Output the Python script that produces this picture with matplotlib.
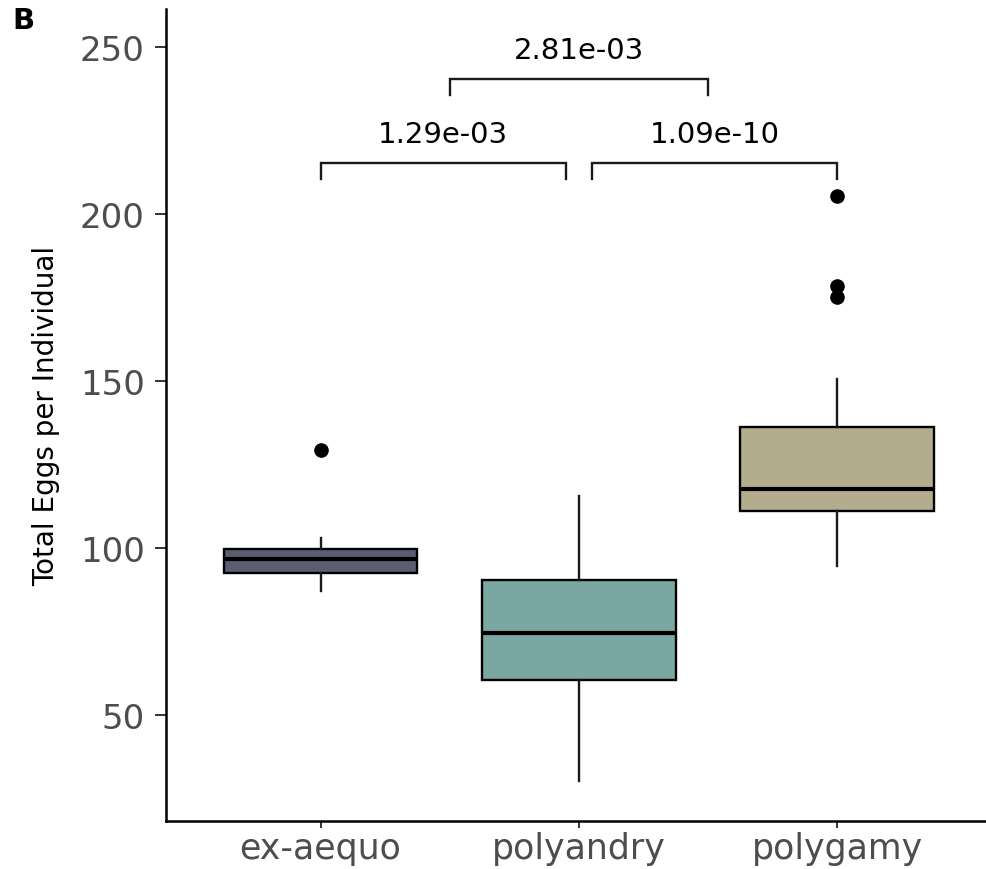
import matplotlib.pyplot as plt

# group names and box summaries (Total Eggs per Individual)
groups = ['ex-aequo', 'polyandry', 'polygamy']
box_colors = ['#5b5e72', '#7aa7a1', '#b3ad8e']
q1 = [92.3, 60.5, 111.0]
median = [96.5, 74.5, 117.7]
q3 = [99.5, 90.3, 136.2]
whisker_low = [86.9, 30.0, 94.6]
whisker_high = [102.8, 115.6, 150.5]
outliers = [[129.2], [], [175.1, 178.6, 205.3]]

# pairwise comparisons: (x start, x end, p-value label, bracket level)
pairs = [(1.0, 1.95, '1.29e-03', 215.4),
         (2.05, 3.0, '1.09e-10', 215.4),
         (1.5, 2.5, '2.81e-03', 240.6)]

plt.rcParams['font.family'] = ['DejaVu Sans']

fig = plt.figure(figsize=(9.87, 8.7), dpi=100)
ax = fig.add_axes([0.1677, 0.0552, 0.8375, 0.9333])

stats = []
for i, g in enumerate(groups):
    stats.append(dict(label=g, q1=q1[i], med=median[i], q3=q3[i],
                      whislo=whisker_low[i], whishi=whisker_high[i], fliers=outliers[i]))

bp = ax.bxp(stats, positions=range(1, len(groups) + 1), widths=0.75,
            patch_artist=True, showcaps=False,
            boxprops=dict(linewidth=1.7, edgecolor='black'),
            medianprops=dict(color='black', linewidth=3.0),
            whiskerprops=dict(color='#1a1a1a', linewidth=1.7),
            flierprops=dict(marker='o', markerfacecolor='black', markeredgecolor='black',
                            markersize=9.5, linestyle='none'))
for patch, c in zip(bp['boxes'], box_colors):
    patch.set_facecolor(c)

# significance brackets
tip = 4.8
for xa, xb, label, y in pairs:
    ax.plot([xa, xa, xb, xb], [y - tip, y, y, y - tip], color='#1a1a1a', linewidth=1.7,
            solid_joinstyle='miter', clip_on=False)
    ax.text((xa + xb) / 2, y + 6.2, label, ha='center', va='baseline', fontsize=21, color='black')

ax.set_xlim(0.4, 3.6)
ax.set_ylim(18.1, 261.5)
ax.set_yticks([50, 100, 150, 200, 250])
ax.set_xticks([1, 2, 3])
ax.set_xticklabels(groups)

for side in ['top', 'right']:
    ax.spines[side].set_visible(False)
for side in ['left', 'bottom']:
    ax.spines[side].set_linewidth(1.8)
    ax.spines[side].set_color('black')

ax.tick_params(axis='y', length=8, width=1.4, color='#333333', labelsize=24.5,
               labelcolor='#4d4d4d', pad=7)
ax.tick_params(axis='x', length=5, width=1.4, color='#333333', labelsize=25,
               labelcolor='#4d4d4d', pad=2.5)

ax.set_ylabel('Total Eggs per Individual', fontsize=20, color='black')
ax.yaxis.set_label_coords(-0.128, 0.5)

fig.text(12 / 987, 1 - 7 / 870, 'B', ha='left', va='top', fontsize=21, fontweight='bold')

fig.savefig('out.png', dpi=100)
